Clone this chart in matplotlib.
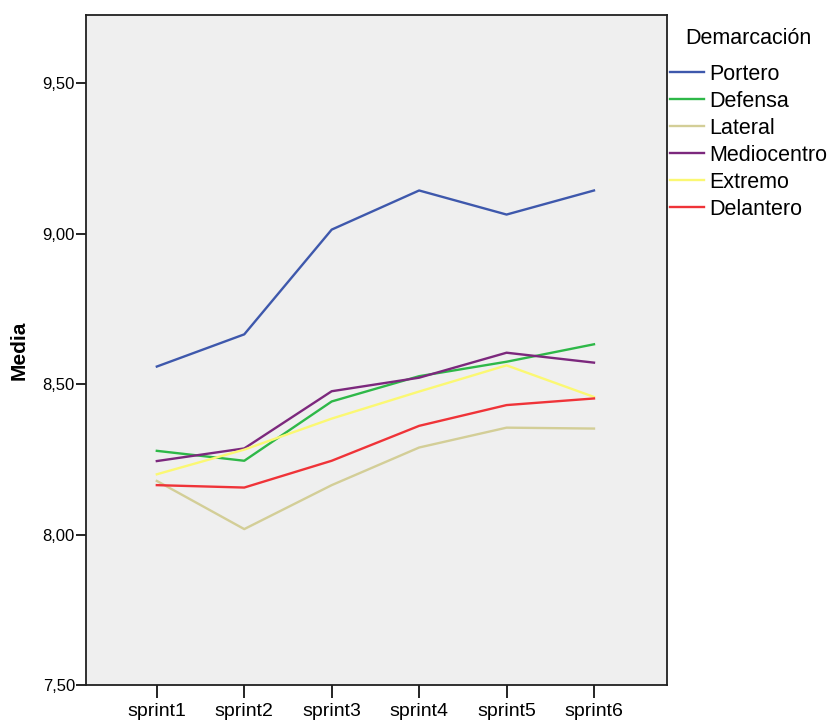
import numpy as np
import matplotlib
matplotlib.use('Agg')
import matplotlib.pyplot as plt
from matplotlib.ticker import FuncFormatter

plt.rcParams['font.family'] = ['Liberation Sans', 'DejaVu Sans']

#----- Data -----#

sprints   = ['sprint1', 'sprint2', 'sprint3', 'sprint4', 'sprint5', 'sprint6']

portero     = [8.558, 8.665, 9.013, 9.143, 9.063, 9.143]
defensa     = [8.278, 8.245, 8.442, 8.526, 8.574, 8.632]
lateral     = [8.178, 8.018, 8.164, 8.289, 8.355, 8.352]
mediocentro = [8.244, 8.286, 8.476, 8.521, 8.604, 8.571]
extremo     = [8.200, 8.282, 8.385, 8.475, 8.562, 8.457]
delantero   = [8.164, 8.156, 8.245, 8.361, 8.430, 8.452]

groups    = ['Portero', 'Defensa', 'Lateral', 'Mediocentro', 'Extremo', 'Delantero']
colors    = ['#3e58ac', '#2eb848', '#d3ce97', '#7c287d', '#fbf873', '#ef3338']

yticks    = [7.5, 8.0, 8.5, 9.0, 9.5]

#----- Plot -----#

fig = plt.figure(figsize=(8.27, 7.2), dpi=100)
ax  = fig.add_axes([86/827, 35/720, 581/827, 670/720])
ax.set_facecolor('#efefef')

x = np.arange(1, len(sprints)+1)
for vals, name, col in zip([portero, defensa, lateral, mediocentro, extremo, delantero],
                           groups, colors):
	ax.plot(x, vals, color=col, lw=1.7, label=name)

ax.set_xlim(0.19, 6.835)
ax.set_ylim(7.5, 9.726)

ax.set_xticks(x)
ax.set_xticklabels(sprints, fontsize=14)
ax.set_yticks(yticks)
ax.yaxis.set_major_formatter(FuncFormatter(lambda v, p: ('%.2f' % v).replace('.', ',')))
ax.tick_params(axis='y', labelsize=12, length=7, width=1.2, direction='out', pad=1)
ax.tick_params(axis='x', length=9, width=1.2, direction='out', pad=4)

for sp in ax.spines.values():
	sp.set_linewidth(1.3)
	sp.set_color('#202020')

ax.set_ylabel('Media', fontsize=15, fontweight='bold')
ax.yaxis.set_label_coords(-0.098, 0.5)

leg = ax.legend(loc='upper left', bbox_to_anchor=(670/827, 1 - 28/720),
		bbox_transform=fig.transFigure, frameon=False,
		title='Demarcación', fontsize=15.5, title_fontsize=15.5,
		handlelength=1.6, handletextpad=0.22, labelspacing=0.28,
		borderaxespad=0, borderpad=0)
# a bit more room between the title and the first entry
leg._legend_box.sep = 10.5

fig.savefig('out.png', dpi=100)
